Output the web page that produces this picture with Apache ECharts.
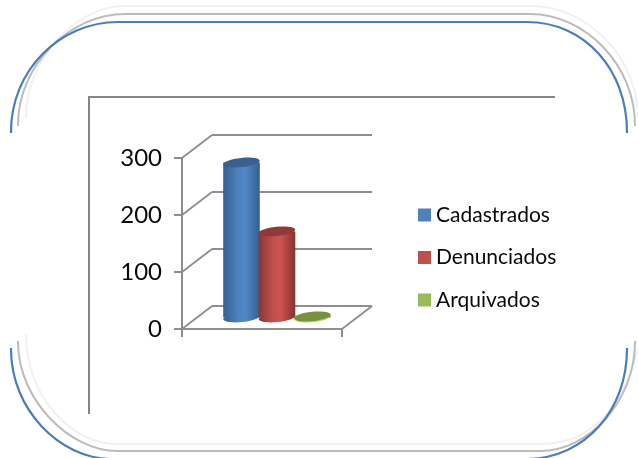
<!DOCTYPE html>
<html>
<head>
<meta charset="utf-8">
<style>html,body{margin:0;padding:0;background:#fff}#c{width:638px;height:458px}</style>
<script src="https://cdn.jsdelivr.net/npm/echarts@6/dist/echarts.min.js"></script>
</head>
<body>
<div id="c"></div>
<script>
const categories = [''];
const seriesNames = ['Cadastrados', 'Denunciados', 'Arquivados'];
const cadastrados = [272];
const denunciados = [151];
const arquivados = [2];
const yTicks = [0, 100, 200, 300];

// Perspective offset of the back wall, and the cylinder layout.
const DEPTH_X = 30, DEPTH_Y = -23;
const BAR_STEP = 35.5, BAR_RX = 18.3, BAR_RY = 4.6, TILT = 0.1;
const AXIS_GRAY = '#8e8e8e';

const palette = [
  { side: ['#34608f', '#4f81bd', '#5088c8', '#34608f'], cap: '#38618f', flat: '#4f81bd' },
  { side: ['#8b3533', '#c0504d', '#cc5450', '#863230'], cap: '#8f3a38', flat: '#c0504d' },
  { side: ['#7a9a3e', '#9bbb59', '#9bbb59', '#7a9a3e'], cap: '#76923c', flat: '#9bbb59' }
];

function sideGradient(stops) {
  return new echarts.graphic.LinearGradient(0, 0, 1, 0, stops.map(function (c, i) {
    return { offset: [0, 0.4, 0.6, 1][i], color: c };
  }));
}

// Back wall gridlines with their diagonals to the front axis.
function renderWall(params, api) {
  const cs = params.coordSys;
  const p = api.coord([0, api.value(1)]);
  const left = cs.x, right = cs.x + cs.width, y = p[1];
  const style = { stroke: AXIS_GRAY, lineWidth: 1.8, fill: null };
  const children = [
    { type: 'line', shape: { x1: left, y1: y, x2: left + DEPTH_X, y2: y + DEPTH_Y }, style: style },
    { type: 'line', shape: { x1: left + DEPTH_X, y1: y + DEPTH_Y, x2: right + DEPTH_X, y2: y + DEPTH_Y }, style: style }
  ];
  if (api.value(1) === 0) {
    children.push({ type: 'line', shape: { x1: right, y1: y, x2: right + DEPTH_X, y2: y + DEPTH_Y }, style: style });
  }
  return { type: 'group', children: children };
}

// A cylinder standing midway between the front axis and the back wall.
function cylinder(index) {
  return function (params, api) {
    const base = api.coord([0, 0]);
    const top = api.coord([0, api.value(1)]);
    const cx = base[0] + DEPTH_X / 2 + (index - 1) * BAR_STEP;
    const yBase = base[1] + DEPTH_Y / 2;
    const yTop = top[1] + DEPTH_Y / 2;
    const side = sideGradient(palette[index].side);
    return {
      type: 'group',
      children: [
        { type: 'ellipse', x: cx, y: yBase, rotation: TILT, shape: { cx: 0, cy: 0, rx: BAR_RX, ry: BAR_RY }, style: { fill: index === 2 ? '#a9c85f' : side } },
        { type: 'rect', shape: { x: cx - BAR_RX, y: yTop, width: BAR_RX * 2, height: yBase - yTop }, style: { fill: side } },
        { type: 'ellipse', x: cx, y: yTop, rotation: TILT, shape: { cx: 0, cy: 0, rx: BAR_RX, ry: BAR_RY }, style: { fill: palette[index].cap } }
      ]
    };
  };
}

// Decorative rounded brackets around the chart, and the chart's open border.
// A segment with 8 numbers is a cubic curve (start, control, control, end); with 4, a straight line.
const frameLines = [
  { stroke: '#f1f1f1', width: 2, segments: [[26,117, 26,60, 75,6, 125,6], [125,6, 530,6], [530,6, 590,6, 638,60, 638,117]] },
  { stroke: '#bcbcbc', width: 2, segments: [[18,125, 18,65, 70,14, 125,14], [125,14, 530,14], [530,14, 585,14, 635,65, 635,125]] },
  { stroke: '#4a7ebb', width: 2.2, segments: [[11,132, 11,70, 60,22, 118,22], [118,22, 527,22], [527,22, 585,22, 627,70, 627,132]] },
  { stroke: '#f1f1f1', width: 2, segments: [[26,335, 26,395, 70,444, 117,444], [117,444, 540,444], [540,444, 590,444, 625,410, 640,340]] },
  { stroke: '#bcbcbc', width: 2, segments: [[18,342, 18,400, 70,451, 117,451], [117,451, 540,451], [540,451, 590,451, 635,400, 635,342]] },
  { stroke: '#4a7ebb', width: 2.2, segments: [[11,349, 11,410, 60,458, 110,459], [110,459, 528,459], [528,459, 585,458, 627,410, 627,349]] },
  { stroke: '#868686', width: 2, segments: [[89,413, 89,97], [89,97, 554,97]] }
];

function frameElements() {
  const out = [];
  frameLines.forEach(function (f) {
    f.segments.forEach(function (s) {
      const style = { fill: null, stroke: f.stroke, lineWidth: f.width, lineCap: 'square' };
      if (s.length === 8) {
        out.push({ type: 'bezierCurve', silent: true, style: style,
          shape: { x1: s[0], y1: s[1], cpx1: s[2], cpy1: s[3], cpx2: s[4], cpy2: s[5], x2: s[6], y2: s[7] } });
      } else {
        out.push({ type: 'line', silent: true, style: style,
          shape: { x1: s[0], y1: s[1], x2: s[2], y2: s[3] } });
      }
    });
  });
  return out;
}

const chart = echarts.init(document.getElementById('c'));
chart.setOption({
  animation: false,
  backgroundColor: '#ffffff',
  textStyle: { fontFamily: 'Lato' },
  graphic: frameElements(),
  legend: {
    data: seriesNames,
    orient: 'vertical',
    left: 413,
    top: 198,
    icon: 'rect',
    itemWidth: 13,
    itemHeight: 13,
    itemGap: 18.5,
    textStyle: { fontFamily: 'Lato', fontSize: 21, color: '#0a0a0a', lineHeight: 24 }
  },
  grid: { left: 182, top: 158, width: 160, height: 171, containLabel: false },
  xAxis: {
    type: 'category',
    data: categories,
    boundaryGap: true,
    axisLine: { lineStyle: { color: AXIS_GRAY, width: 2 } },
    axisTick: { show: true, length: 8, lineStyle: { color: AXIS_GRAY, width: 2 } },
    axisLabel: { show: false }
  },
  yAxis: {
    type: 'value',
    min: 0,
    max: 300,
    interval: 100,
    axisLine: { show: true, lineStyle: { color: AXIS_GRAY, width: 2 } },
    axisTick: { show: true, length: 8, lineStyle: { color: AXIS_GRAY, width: 2 } },
    axisLabel: { fontFamily: 'Lato', fontSize: 24, color: '#0a0a0a', margin: 20 },
    splitLine: { show: false }
  },
  series: [
    {
      type: 'custom',
      name: 'Parede',
      silent: true,
      clip: false,
      z: 1,
      encode: { x: 0, y: 1 },
      data: yTicks.map(function (v) { return [0, v]; }),
      renderItem: renderWall
    }
  ].concat([cadastrados, denunciados, arquivados].map(function (values, i) {
    return {
      type: 'custom',
      name: seriesNames[i],
      clip: false,
      z: 3,
      itemStyle: { color: palette[i].flat },
      encode: { x: 0, y: 1 },
      data: values.map(function (v, k) { return [k, v]; }),
      renderItem: cylinder(i)
    };
  }))
});
</script>
</body>
</html>
